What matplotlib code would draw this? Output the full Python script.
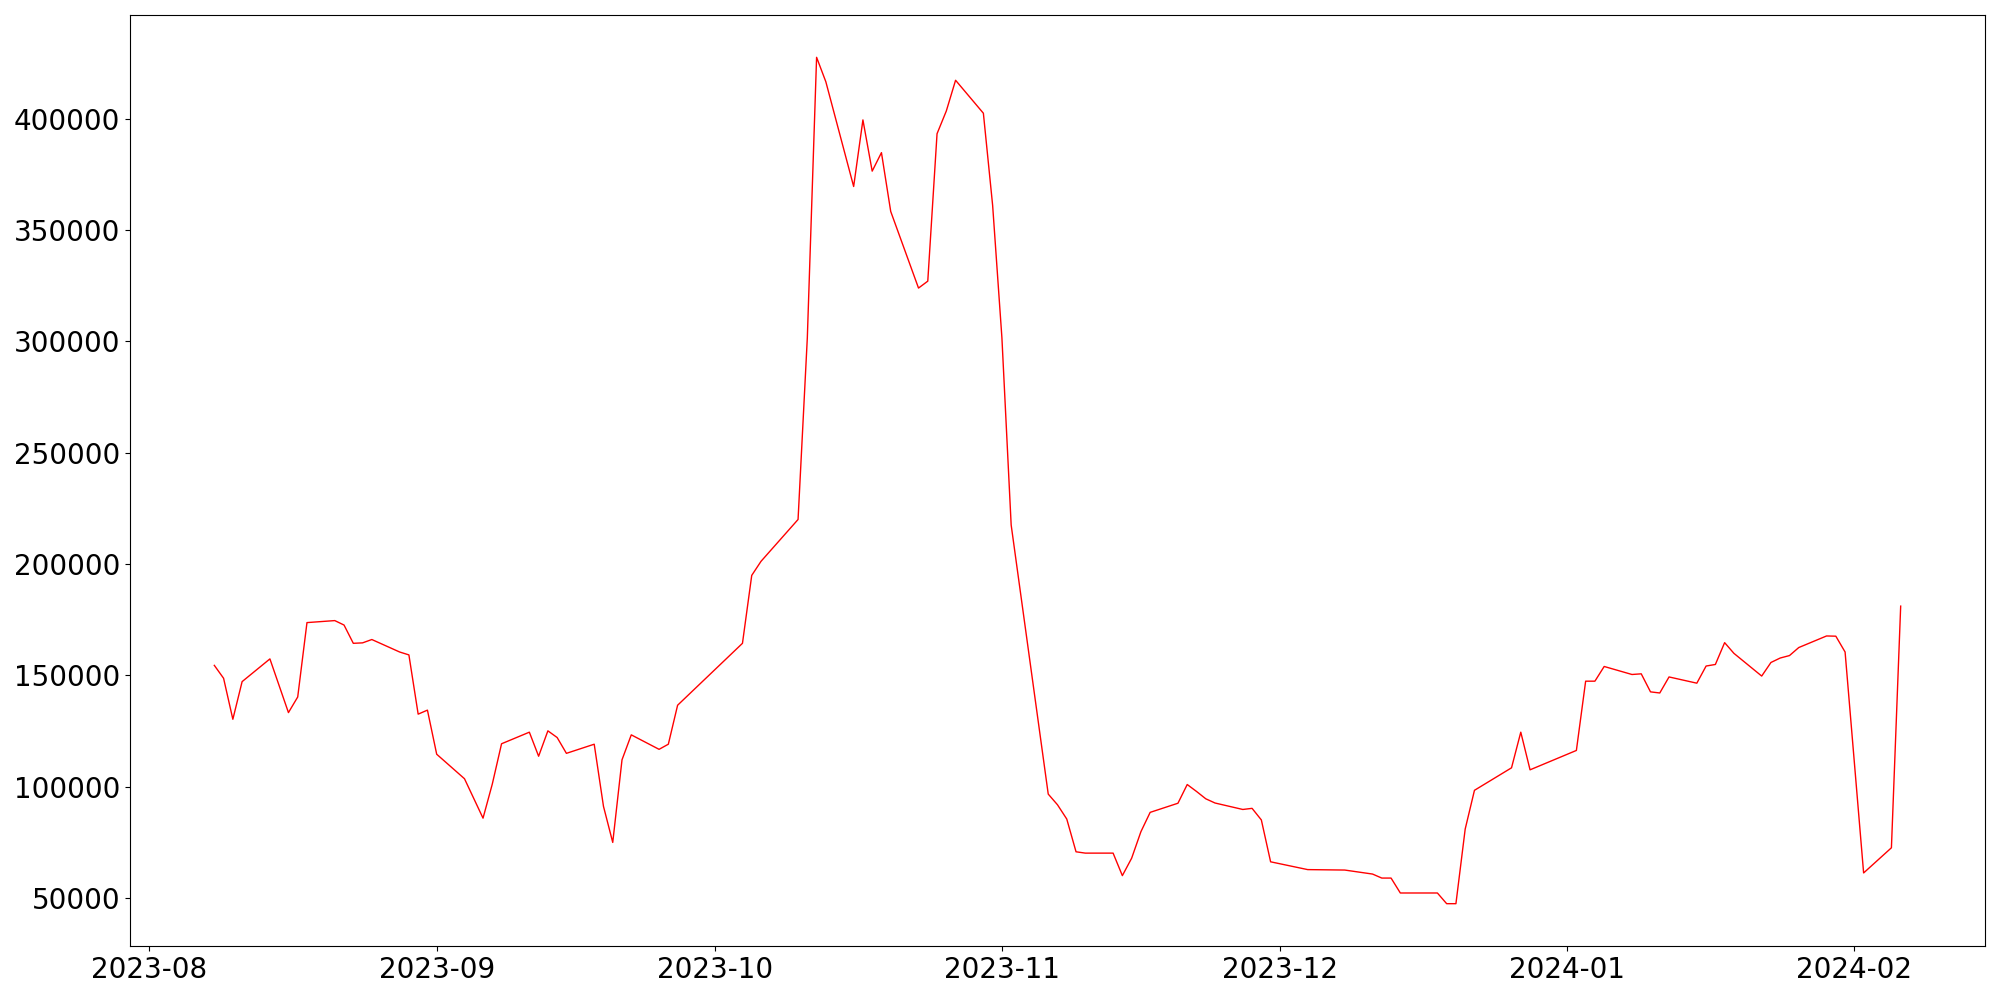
import matplotlib
matplotlib.use("Agg")
import matplotlib.pyplot as plt
import pandas as pd

dates = [
    "2023-08-08", "2023-08-09", "2023-08-10", "2023-08-11", "2023-08-14",
    "2023-08-16", "2023-08-17", "2023-08-18", "2023-08-21", "2023-08-22",
    "2023-08-23", "2023-08-24", "2023-08-25", "2023-08-28", "2023-08-29",
    "2023-08-30", "2023-08-31", "2023-09-01", "2023-09-04", "2023-09-06",
    "2023-09-07", "2023-09-08", "2023-09-11", "2023-09-12", "2023-09-13",
    "2023-09-14", "2023-09-15", "2023-09-18", "2023-09-19", "2023-09-20",
    "2023-09-21", "2023-09-22", "2023-09-25", "2023-09-26", "2023-09-27",
    "2023-10-04", "2023-10-05", "2023-10-06", "2023-10-10", "2023-10-11",
    "2023-10-12", "2023-10-13", "2023-10-16", "2023-10-17", "2023-10-18",
    "2023-10-19", "2023-10-20", "2023-10-23", "2023-10-24", "2023-10-25",
    "2023-10-26", "2023-10-27", "2023-10-30", "2023-10-31", "2023-11-01",
    "2023-11-02", "2023-11-06", "2023-11-07", "2023-11-08", "2023-11-09",
    "2023-11-10", "2023-11-13", "2023-11-14", "2023-11-15", "2023-11-16",
    "2023-11-17", "2023-11-20", "2023-11-21", "2023-11-22", "2023-11-23",
    "2023-11-24", "2023-11-27", "2023-11-28", "2023-11-29", "2023-11-30",
    "2023-12-04", "2023-12-08", "2023-12-11", "2023-12-12", "2023-12-13",
    "2023-12-14", "2023-12-18", "2023-12-19", "2023-12-20", "2023-12-21",
    "2023-12-22", "2023-12-26", "2023-12-27", "2023-12-28", "2024-01-02",
    "2024-01-03", "2024-01-04", "2024-01-05", "2024-01-08", "2024-01-09",
    "2024-01-10", "2024-01-11", "2024-01-12", "2024-01-15", "2024-01-16",
    "2024-01-17", "2024-01-18", "2024-01-19", "2024-01-22", "2024-01-23",
    "2024-01-24", "2024-01-25", "2024-01-26", "2024-01-29", "2024-01-30",
    "2024-01-31", "2024-02-02", "2024-02-05", "2024-02-06",
]

values = [
    154500, 148700, 130300, 147200, 157400,
    133300, 140300, 173700, 174600, 172600,
    164400, 164600, 166100, 160500, 159200,
    132600, 134400, 114600, 103600, 85900,
    101200, 119300, 124500, 113700, 125100,
    122100, 115000, 119100, 91200, 75000,
    112100, 123300, 116800, 119100, 136600,
    164400, 194900, 201200, 220000, 301600,
    427500, 416500, 369500, 399400, 376400,
    384700, 358300, 323900, 327000, 393200,
    403400, 417200, 402400, 361000, 301600,
    217500, 96700, 91900, 85500, 70800,
    70200, 70200, 60100, 67900, 79800,
    88500, 92600, 101000, 97900, 94600,
    92700, 89800, 90300, 85100, 66300,
    62800, 62600, 60800, 59000, 59000,
    52300, 52300, 47500, 47500, 81000,
    98400, 108500, 124500, 107600, 116300,
    147400, 147400, 154000, 150400, 150700,
    142600, 142100, 149300, 146500, 154200,
    154900, 164700, 159900, 149700, 155800,
    157800, 158900, 162500, 167700, 167600,
    160500, 61300, 72600, 181100,
]

df = pd.DataFrame({"date": pd.to_datetime(dates), "value": values})

fig, ax = plt.subplots(figsize=(20, 10), dpi=100)
ax.plot(df["date"], df["value"], color="red", linewidth=1.0)
ax.tick_params(labelsize=20)
fig.subplots_adjust(left=0.065, right=0.9925, bottom=0.054, top=0.985)
fig.savefig("out.png")
